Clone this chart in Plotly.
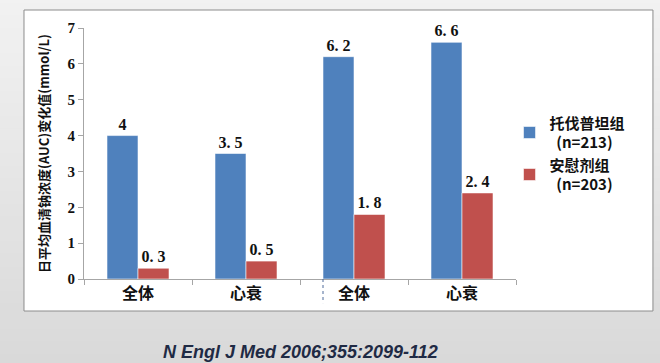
import plotly.graph_objects as go

categories = ["全体", "心衰", "全体", "心衰"]
series_names = ["<b>托伐普坦组</b><br>  <b>(n=213)</b>", "<b>安慰剂组</b><br>  <b>(n=203)</b>"]
tolvaptan = [4, 3.5, 6.2, 6.6]
placebo = [0.3, 0.5, 1.8, 2.4]
y_ticks = [0, 1, 2, 3, 4, 5, 6, 7]

colors = ["#4f81bd", "#c0504d"]
xs = list(range(len(categories)))

fig = go.Figure()
for name, vals, c in zip(series_names, [tolvaptan, placebo], colors):
    fig.add_trace(go.Bar(
        x=xs, y=vals, name=name,
        marker=dict(color=c, line=dict(color="rgba(255,255,255,0.55)", width=1)),
        text=["<b>" + f"{v:g}".replace(".", ". ") + "</b>" for v in vals],
        textposition="outside", cliponaxis=False,
        textfont=dict(family="Liberation Serif", size=16, color="#111111"),
    ))

shapes = []
# gradient background
n = 30
for i in range(n):
    t = i / (n - 1)
    g = int(round(0xf2 + (0xd9 - 0xf2) * t))
    col = f"rgb({g},{g},{g})"
    y0 = 1 - i / n
    y1 = 1 - (i + 1) / n
    shapes.append(dict(type="rect", xref="paper", yref="paper", layer="below",
                       x0=-0.3, x1=1.4, y0=-0.35 + (1.15 + 0.35) * y1 - 0.001,
                       y1=-0.35 + (1.15 + 0.35) * y0 + 0.001,
                       fillcolor=col, line=dict(width=0)))
# white chart panel
shapes.append(dict(type="rect", xref="paper", yref="paper", layer="below",
                   x0=-0.1389, x1=1.317, y0=-0.1275, y1=1.0717,
                   fillcolor="white", line=dict(color="#8c8c8c", width=1)))
# dotted separator
shapes.append(dict(type="line", xref="x", yref="paper", x0=1.713, x1=1.713,
                   y0=0, y1=-0.096, line=dict(color="#4f6a9a", width=1, dash="dot")))

fig.update_layout(
    width=660, height=363,
    margin=dict(l=84, r=144, t=28, b=84),
    paper_bgcolor="#e6e6e6", plot_bgcolor="rgba(0,0,0,0)",
    barmode="group", bargap=0.426, bargroupgap=0,
    showlegend=True,
    legend=dict(x=0.985, xanchor="left", y=0.50, yanchor="middle",
                font=dict(family="Noto Sans CJK SC", size=15, color="#111111"),
                bgcolor="rgba(0,0,0,0)", tracegroupgap=0, itemwidth=30),
    shapes=shapes,
    xaxis=dict(range=[-0.5, 3.5], tickvals=xs, ticktext=[f"<b>{c}</b>" for c in categories],
               ticks="", showgrid=False, zeroline=False,
               showline=True, linecolor="#a6a6a6", linewidth=1,
               tickfont=dict(family="Noto Sans CJK SC", size=16, color="#111111"),
               minor=dict(tickvals=[-0.5, 0.5, 1.5, 2.5, 3.5], ticks="outside",
                          ticklen=5, tickcolor="#a6a6a6", showgrid=False)),
    yaxis=dict(range=[0, 7], tickvals=y_ticks, ticktext=[f"<b>{v}</b>" for v in y_ticks],
               ticks="outside", ticklen=5, tickcolor="#a6a6a6",
               showgrid=False, zeroline=False,
               showline=True, linecolor="#a6a6a6", linewidth=1,
               tickfont=dict(family="Liberation Serif", size=15, color="#111111"),
               title=dict(text="<b>日平均血清钠浓度(AUC)变化值(mmol/L)</b>",
                          font=dict(family="Noto Sans CJK SC", size=13, color="#111111"),
                          standoff=14)),
    annotations=[dict(text="<b><i>N Engl J Med 2006;355:2099-112</i></b>",
                      xref="paper", yref="paper", x=0.5, y=-0.29, xanchor="center",
                      yanchor="middle", showarrow=False,
                      font=dict(family="Liberation Sans", size=18, color="#1f2a44"))],
)
fig.write_html("out.html", config={"displayModeBar": False},
               post_script="document.body.style.margin='0';document.body.style.padding='0';")
